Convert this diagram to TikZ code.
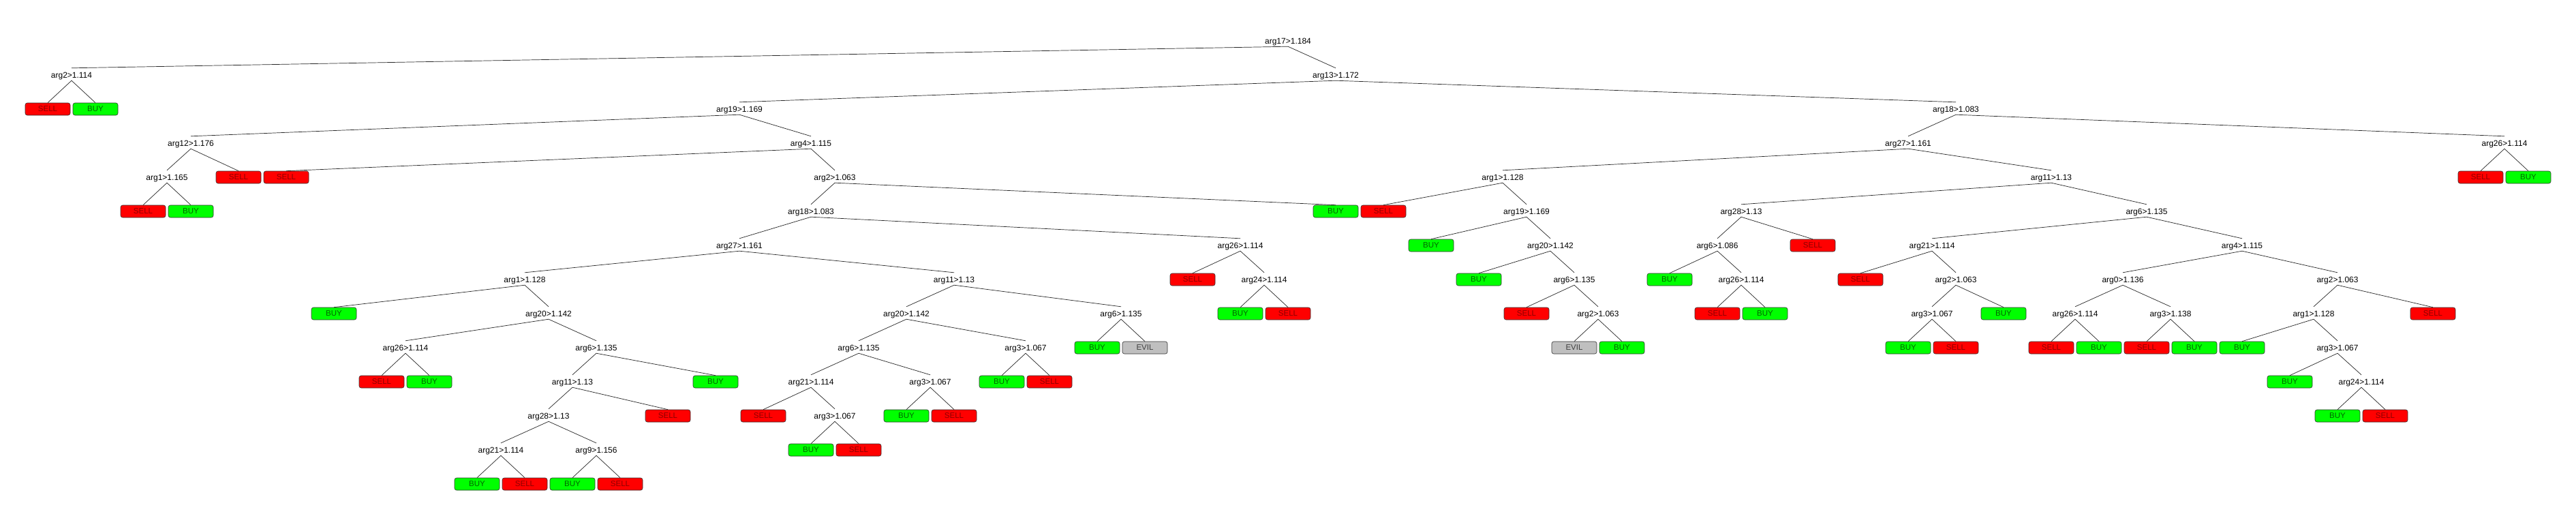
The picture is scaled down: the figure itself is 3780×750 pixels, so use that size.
\documentclass[tikz,border=0pt]{standalone}
\usepackage{fontspec}
\setmainfont{Liberation Sans}
\newcommand\labfont{\fontsize{12}{14}\selectfont}
\newcommand\boxfont{\fontsize{11.5}{13}\selectfont}
\tikzset{
  lab/.style={font=\labfont, inner sep=0pt, text height=14.5pt, text depth=3.5pt, anchor=base},
  leafbox/.style={draw=black!80, line width=0.6pt, rounded corners=3pt, minimum width=66pt, minimum height=18pt, inner sep=0pt, font=\boxfont},
  sell/.style={leafbox, fill=red, text=red!55!black},
  buy/.style={leafbox, fill=green, text=green!40!black},
  evil/.style={leafbox, fill=black!25, text=black!75},
  conn/.style={draw=black!85, line width=0.7pt}
}
% label: name, x, row, text
\newcommand\LB[4]{\node[lab] (#1) at (#2,{#3*50+64.5}) {#4};}
% leaf: name, k, row, style, text
\newcommand\LF[5]{\node[#4] (#1) at ({#2*70},{#3*50+60}) {#5};}
\begin{document}
\begin{tikzpicture}[x=1pt,y=-1pt]
\useasboundingbox[fill=white] (0,0) rectangle (3780,750);
% row 0
\LB{r}{1890}{0}{arg17>1.184}
% row 1
\LB{a}{105}{1}{arg2>1.114}
\LB{b}{1960}{1}{arg13>1.172}
% row 2
\LF{l1}{1}{2}{sell}{SELL}
\LF{l2}{2}{2}{buy}{BUY}
\LB{c}{1085}{2}{arg19>1.169}
\LB{d}{2870}{2}{arg18>1.083}
% row 3
\LB{e}{280}{3}{arg12>1.176}
\LB{f}{1190}{3}{arg4>1.115}
\LB{g}{2800}{3}{arg27>1.161}
\LB{h}{3675}{3}{arg26>1.114}
% row 4
\LB{i}{245}{4}{arg1>1.165}
\LF{l5}{5}{4}{sell}{SELL}
\LF{l6}{6}{4}{sell}{SELL}
\LB{j}{1225}{4}{arg2>1.063}
\LB{k}{2205}{4}{arg1>1.128}
\LB{m}{3010}{4}{arg11>1.13}
\LF{l52}{52}{4}{sell}{SELL}
\LF{l53}{53}{4}{buy}{BUY}
% row 5
\LF{l3}{3}{5}{sell}{SELL}
\LF{l4}{4}{5}{buy}{BUY}
\LB{n}{1190}{5}{arg18>1.083}
\LF{l28}{28}{5}{buy}{BUY}
\LF{l29}{29}{5}{sell}{SELL}
\LB{o}{2240}{5}{arg19>1.169}
\LB{p}{2555}{5}{arg28>1.13}
\LB{q}{3150}{5}{arg6>1.135}
% row 6
\LB{s}{1085}{6}{arg27>1.161}
\LB{t}{1820}{6}{arg26>1.114}
\LF{l30}{30}{6}{buy}{BUY}
\LB{u}{2275}{6}{arg20>1.142}
\LB{v}{2520}{6}{arg6>1.086}
\LF{l38}{38}{6}{sell}{SELL}
\LB{w}{2835}{6}{arg21>1.114}
\LB{nx}{3290}{6}{arg4>1.115}
% row 7
\LB{r7a}{770}{7}{arg1>1.128}
\LB{r7b}{1400}{7}{arg11>1.13}
\LF{l25}{25}{7}{sell}{SELL}
\LB{r7c}{1855}{7}{arg24>1.114}
\LF{l31}{31}{7}{buy}{BUY}
\LB{r7d}{2310}{7}{arg6>1.135}
\LF{l35}{35}{7}{buy}{BUY}
\LB{r7e}{2555}{7}{arg26>1.114}
\LF{l39}{39}{7}{sell}{SELL}
\LB{r7f}{2870}{7}{arg2>1.063}
\LB{r7g}{3115}{7}{arg0>1.136}
\LB{r7h}{3430}{7}{arg2>1.063}
% row 8
\LF{l7}{7}{8}{buy}{BUY}
\LB{r8a}{805}{8}{arg20>1.142}
\LB{r8b}{1330}{8}{arg20>1.142}
\LB{r8c}{1645}{8}{arg6>1.135}
\LF{l26}{26}{8}{buy}{BUY}
\LF{l27}{27}{8}{sell}{SELL}
\LF{l32}{32}{8}{sell}{SELL}
\LB{r8d}{2345}{8}{arg2>1.063}
\LF{l36}{36}{8}{sell}{SELL}
\LF{l37}{37}{8}{buy}{BUY}
\LB{r8e}{2835}{8}{arg3>1.067}
\LF{l42}{42}{8}{buy}{BUY}
\LB{r8f}{3045}{8}{arg26>1.114}
\LB{r8g}{3185}{8}{arg3>1.138}
\LB{r8h}{3395}{8}{arg1>1.128}
\LF{l51}{51}{8}{sell}{SELL}
% row 9
\LB{r9a}{595}{9}{arg26>1.114}
\LB{r9b}{875}{9}{arg6>1.135}
\LB{r9c}{1260}{9}{arg6>1.135}
\LB{r9d}{1505}{9}{arg3>1.067}
\LF{l23}{23}{9}{buy}{BUY}
\LF{l24}{24}{9}{evil}{EVIL}
\LF{l33}{33}{9}{evil}{EVIL}
\LF{l34}{34}{9}{buy}{BUY}
\LF{l40}{40}{9}{buy}{BUY}
\LF{l41}{41}{9}{sell}{SELL}
\LF{l43}{43}{9}{sell}{SELL}
\LF{l44}{44}{9}{buy}{BUY}
\LF{l45}{45}{9}{sell}{SELL}
\LF{l46}{46}{9}{buy}{BUY}
\LF{l47}{47}{9}{buy}{BUY}
\LB{r9e}{3430}{9}{arg3>1.067}
% row 10
\LF{l8}{8}{10}{sell}{SELL}
\LF{l9}{9}{10}{buy}{BUY}
\LB{r10a}{840}{10}{arg11>1.13}
\LF{l15}{15}{10}{buy}{BUY}
\LB{r10b}{1190}{10}{arg21>1.114}
\LB{r10c}{1365}{10}{arg3>1.067}
\LF{l21}{21}{10}{buy}{BUY}
\LF{l22}{22}{10}{sell}{SELL}
\LF{l48}{48}{10}{buy}{BUY}
\LB{r10d}{3465}{10}{arg24>1.114}
% row 11
\LB{r11a}{805}{11}{arg28>1.13}
\LF{l14}{14}{11}{sell}{SELL}
\LF{l16}{16}{11}{sell}{SELL}
\LB{r11b}{1225}{11}{arg3>1.067}
\LF{l19}{19}{11}{buy}{BUY}
\LF{l20}{20}{11}{sell}{SELL}
\LF{l49}{49}{11}{buy}{BUY}
\LF{l50}{50}{11}{sell}{SELL}
% row 12
\LB{r12a}{735}{12}{arg21>1.114}
\LB{r12b}{875}{12}{arg9>1.156}
\LF{l17}{17}{12}{buy}{BUY}
\LF{l18}{18}{12}{sell}{SELL}
% row 13
\LF{l10}{10}{13}{buy}{BUY}
\LF{l11}{11}{13}{sell}{SELL}
\LF{l12}{12}{13}{buy}{BUY}
\LF{l13}{13}{13}{sell}{SELL}
% connectors
\foreach \pa/\ch in {r/a, r/b, a/l1, a/l2, b/c, b/d, c/e, c/f, d/g, d/h,
  e/i, e/l5, f/l6, f/j, g/k, g/m, h/l52, h/l53, i/l3, i/l4,
  j/n, j/l28, k/l29, k/o, m/p, m/q, n/s, n/t, o/l30, o/u,
  p/v, p/l38, q/w, q/nx, s/r7a, s/r7b, t/l25, t/r7c, u/l31, u/r7d,
  v/l35, v/r7e, w/l39, w/r7f, nx/r7g, nx/r7h,
  r7a/l7, r7a/r8a, r7b/r8b, r7b/r8c, r7c/l26, r7c/l27, r7d/l32, r7d/r8d,
  r7e/l36, r7e/l37, r7f/r8e, r7f/l42, r7g/r8f, r7g/r8g, r7h/r8h, r7h/l51,
  r8a/r9a, r8a/r9b, r8b/r9c, r8b/r9d, r8c/l23, r8c/l24, r8d/l33, r8d/l34,
  r8e/l40, r8e/l41, r8f/l43, r8f/l44, r8g/l45, r8g/l46, r8h/l47, r8h/r9e,
  r9a/l8, r9a/l9, r9b/r10a, r9b/l15, r9c/r10b, r9c/r10c, r9d/l21, r9d/l22,
  r9e/l48, r9e/r10d, r10a/r11a, r10a/l14, r10b/l16, r10b/r11b, r10c/l19, r10c/l20,
  r10d/l49, r10d/l50, r11a/r12a, r11a/r12b, r11b/l17, r11b/l18,
  r12a/l10, r12a/l11, r12b/l12, r12b/l13}
  \draw[conn] (\pa.south) -- (\ch.north);
\end{tikzpicture}
\end{document}
